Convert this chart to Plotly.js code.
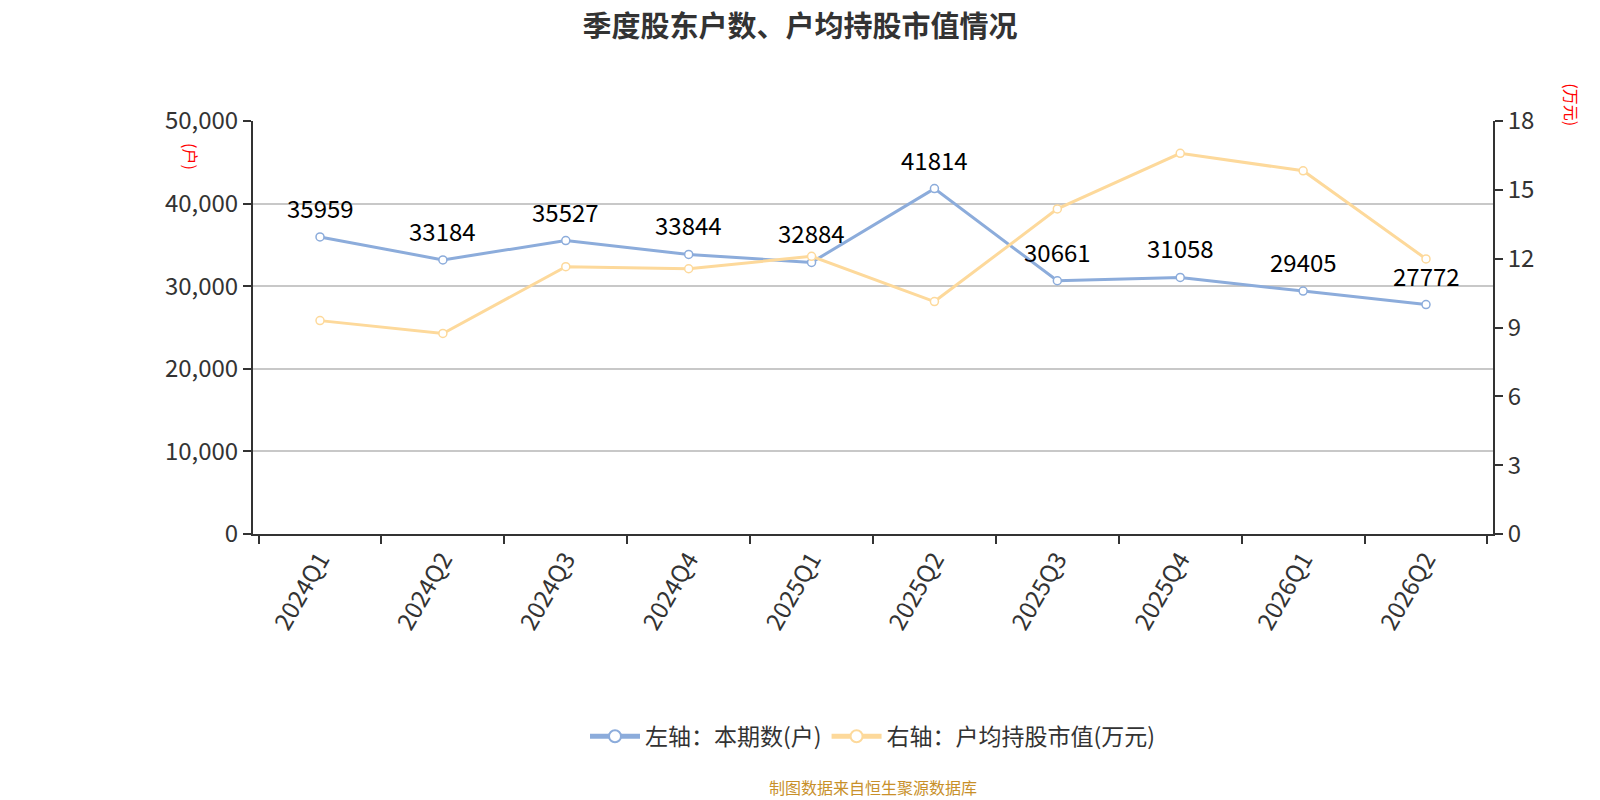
<!DOCTYPE html>
<html>
<head>
<meta charset="utf-8">
<script src="https://cdn.plot.ly/plotly-3.0.1.min.js"></script>
<style>
  html, body { margin: 0; padding: 0; background: #fff; }
  #chart { width: 1600px; height: 800px; }
</style>
</head>
<body>
<div id="chart"></div>
<script>
'use strict';

const quarters = ['2024Q1', '2024Q2', '2024Q3', '2024Q4', '2025Q1', '2025Q2', '2025Q3', '2025Q4', '2026Q1', '2026Q2'];
const holders = [35959, 33184, 35527, 33844, 32884, 41814, 30661, 31058, 29405, 27772];
const avgValue = [9.30, 8.74, 11.65, 11.56, 12.10, 10.13, 14.17, 16.59, 15.83, 11.99];
const leftTicks = [0, 10000, 20000, 30000, 40000, 50000];
const rightTicks = [0, 3, 6, 9, 12, 15, 18];

const font = 'Noto Sans CJK SC, Noto Sans, sans-serif';
const blue = '#8cacdb', orange = '#fdd99b';

const traceLeft = {
	x: quarters,
	y: holders,
	name: '左轴：本期数(户)',
	type: 'scatter',
	mode: 'lines+markers',
	line: { color: blue, width: 3 },
	marker: { size: 8, color: '#fff', line: { color: blue, width: 1.5 } },
	cliponaxis: false
};

const traceRight = {
	x: quarters,
	y: avgValue,
	yaxis: 'y2',
	name: '右轴：户均持股市值(万元)',
	type: 'scatter',
	mode: 'lines+markers',
	line: { color: orange, width: 3 },
	marker: { size: 8, color: '#fff', line: { color: orange, width: 1.5 } },
	cliponaxis: false
};

// value labels above the blue points
const labels = quarters.map(function(q, i) {
	return {
		x: q, y: holders[i], xref: 'x', yref: 'y',
		text: String(holders[i]), showarrow: false,
		yanchor: 'bottom', yshift: 10,
		font: { family: font, size: 24, color: '#000' }
	};
});

const layout = {
	width: 1600,
	height: 800,
	margin: { l: 253, r: 107, t: 121, b: 266 },
	paper_bgcolor: '#fff',
	plot_bgcolor: '#fff',
	font: { family: font, color: '#333' },
	title: {
		text: '<b>季度股东户数、户均持股市值情况</b>',
		font: { family: font, size: 29, color: '#333' },
		x: 0.5, xanchor: 'center', y: 0.966, yanchor: 'middle'
	},
	showlegend: true,
	legend: {
		orientation: 'h',
		x: 0.5, xanchor: 'center', y: -0.49, yanchor: 'middle',
		font: { family: font, size: 23, color: '#333' },
		itemsizing: 'constant',
		itemwidth: 50
	},
	xaxis: {
		type: 'category',
		tickson: 'boundaries',
		ticks: 'outside', ticklen: 8, tickwidth: 2, tickcolor: '#333',
		showline: true, linecolor: '#333', linewidth: 2,
		showgrid: false,
		tickangle: -60,
		tickfont: { family: font, size: 24, color: '#333' }
	},
	yaxis: {
		range: [0, 50000],
		tickvals: leftTicks,
		tickformat: ',',
		ticks: 'outside', ticklen: 8, tickwidth: 2, tickcolor: '#333',
		showline: true, linecolor: '#333', linewidth: 2,
		showgrid: true, gridcolor: '#c8c8c8', gridwidth: 1.5,
		zeroline: false,
		tickfont: { family: font, size: 24, color: '#333' }
	},
	yaxis2: {
		overlaying: 'y',
		side: 'right',
		range: [0, 18],
		tickvals: rightTicks,
		ticks: 'outside', ticklen: 8, tickwidth: 2, tickcolor: '#333',
		showline: true, linecolor: '#333', linewidth: 2,
		showgrid: false, zeroline: false,
		tickfont: { family: font, size: 24, color: '#333' }
	},
	annotations: labels.concat([
		{
			text: '(户)', xref: 'paper', yref: 'paper',
			x: -0.05, y: 0.915, xanchor: 'center', yanchor: 'middle',
			textangle: 90, showarrow: false,
			font: { family: font, size: 16, color: '#f00' }
		},
		{
			text: '(万元)', xref: 'paper', yref: 'paper',
			x: 1.063, y: 1.04, xanchor: 'center', yanchor: 'middle',
			textangle: 90, showarrow: false,
			font: { family: font, size: 16, color: '#f00' }
		},
		{
			text: '制图数据来自恒生聚源数据库', xref: 'paper', yref: 'paper',
			x: 0.5, y: -0.612, xanchor: 'center', yanchor: 'middle',
			showarrow: false,
			font: { family: font, size: 16, color: '#c8902a' }
		}
	])
};

Plotly.newPlot('chart', [traceLeft, traceRight], layout, { displayModeBar: false, responsive: false });
</script>
</body>
</html>
